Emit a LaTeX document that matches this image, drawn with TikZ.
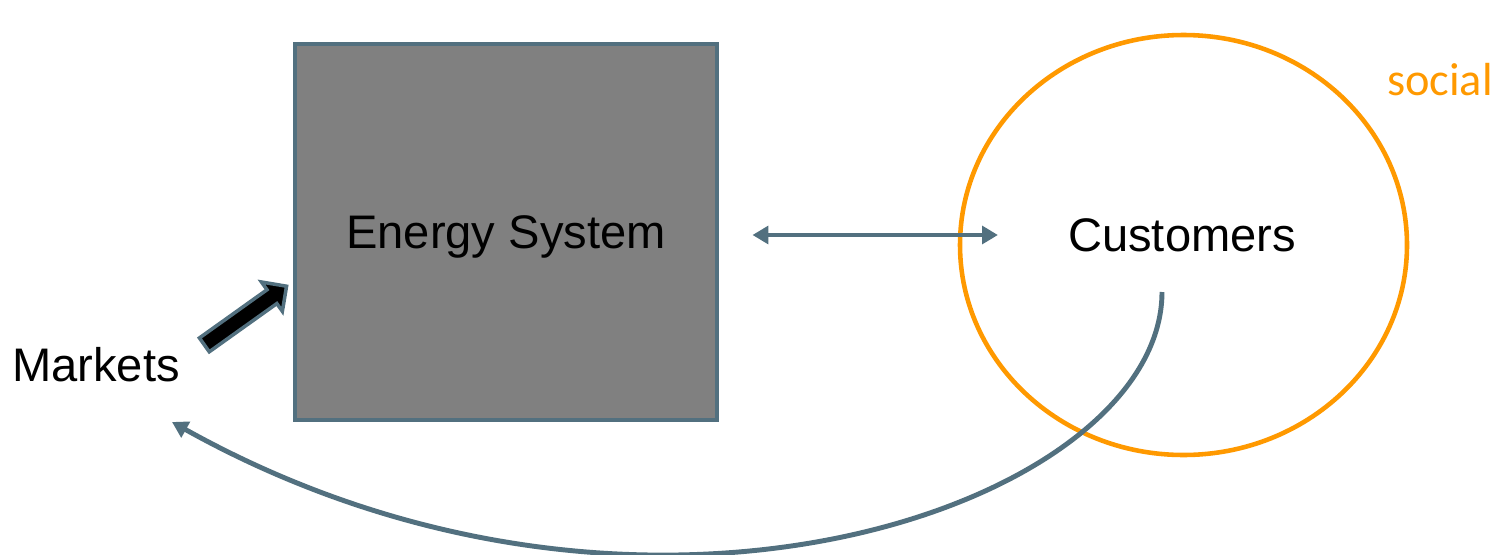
\documentclass[tikz,border=0pt]{standalone}
\usepackage{fontspec}
\setmainfont{Liberation Sans}
\newfontfamily\calib{Carlito}
\usetikzlibrary{arrows.meta,shapes.geometric,shapes.arrows}
\definecolor{slate}{HTML}{52707F}
\definecolor{sorange}{HTML}{FF9900}

\begin{document}
\begin{tikzpicture}[
  lbl/.style={font=\fontsize{26.8}{30}\selectfont},
  link/.style={draw=slate,line width=2.8pt,-{Triangle[length=9pt,width=10pt]}}
]
\useasboundingbox (0,0) rectangle (29.96,-11.08);

% the system and the customers
\node[lbl,draw=slate,line width=2.8pt,fill=gray,text depth=0pt,minimum width=8.44cm,minimum height=7.52cm] (es) at (10.12,-4.64) {Energy System};
\node[ellipse,draw=sorange,line width=2.6pt,minimum width=8.94cm,minimum height=8.4cm] (soc) at (23.67,-4.9) {};
\node[lbl] (cust) at (23.64,-4.7) {Customers};
\node[lbl] (mk) at (1.92,-7.3) {Markets};
\node[font=\calib\fontsize{26.4}{30}\selectfont,text=sorange] (sl) at (28.8,-1.6) {social};

% block arrow into the system
\node[single arrow,draw=slate,fill=black,line width=2pt,inner sep=0.09cm,minimum width=0.72cm,
  single arrow head extend=0.14cm,minimum height=2.02cm,rotate=35.5] (mkarr) at (4.84,-6.36) {};

\draw[link,{Triangle[length=9pt,width=10pt]}-{Triangle[length=9pt,width=10pt]}]
  ([xshift=0.66cm,yshift=-0.06cm]es.east) -- ([xshift=-1.28cm]cust.west);
\draw[link] ([shift={(-0.4,-1.14)}]cust.center) .. controls +(0,-4.2) and +(9.5,-5.3) .. ([shift={(1.52,-1.14)}]mk.center);
\end{tikzpicture}
\end{document}
